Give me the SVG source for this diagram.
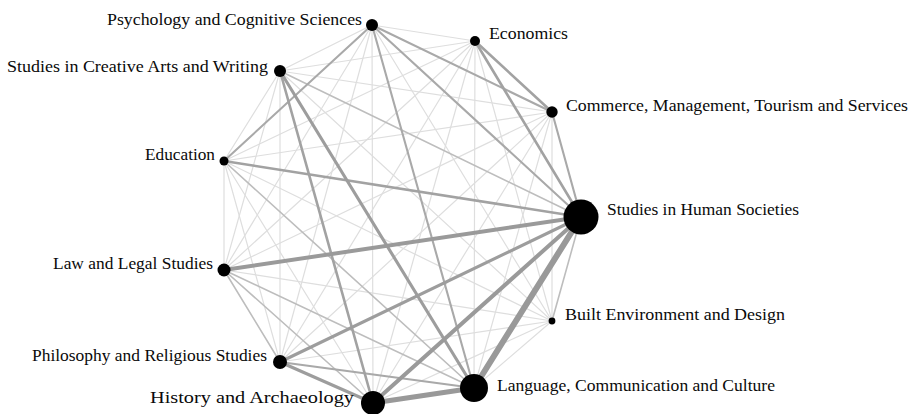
<svg xmlns="http://www.w3.org/2000/svg" width="918" height="414" viewBox="0 0 918 414">
<style>
  line { fill: none; stroke-linecap: round; }
  .w1 { stroke: #dedede; stroke-width: 1.2; }
  .w15 { stroke: #bdbdbd; stroke-width: 1.6; }
  .w2 { stroke: #a9a9a9; stroke-width: 2.1; }
  .w25 { stroke: #a2a2a2; stroke-width: 2.6; }
  .w3 { stroke: #9d9d9d; stroke-width: 3.1; }
  .w4 { stroke: #9a9a9a; stroke-width: 4; }
  .w5 { stroke: #999999; stroke-width: 5; }
  .w6 { stroke: #999999; stroke-width: 6; }
  circle { fill: #000000; }
  text { font-family: "Liberation Serif", "DejaVu Serif", serif; font-size: 17px; fill: #0a0a0a; }
</style>
<rect width="918" height="414" fill="#ffffff"/>
<g id="connectors">
  <line class="w1" x1="372" y1="25" x2="475" y2="41"/>
  <line class="w1" x1="372" y1="25" x2="552" y2="321"/>
  <line class="w1" x1="372" y1="25" x2="373" y2="403"/>
  <line class="w1" x1="372" y1="25" x2="280" y2="362"/>
  <line class="w1" x1="372" y1="25" x2="224" y2="270"/>
  <line class="w1" x1="372" y1="25" x2="280" y2="71"/>
  <line class="w1" x1="475" y1="41" x2="552" y2="321"/>
  <line class="w1" x1="475" y1="41" x2="474" y2="388"/>
  <line class="w1" x1="475" y1="41" x2="373" y2="403"/>
  <line class="w1" x1="475" y1="41" x2="280" y2="362"/>
  <line class="w1" x1="475" y1="41" x2="224" y2="270"/>
  <line class="w1" x1="475" y1="41" x2="224" y2="161"/>
  <line class="w1" x1="475" y1="41" x2="280" y2="71"/>
  <line class="w1" x1="552" y1="112" x2="552" y2="321"/>
  <line class="w1" x1="552" y1="112" x2="474" y2="388"/>
  <line class="w1" x1="552" y1="112" x2="373" y2="403"/>
  <line class="w1" x1="552" y1="112" x2="280" y2="362"/>
  <line class="w1" x1="552" y1="112" x2="224" y2="270"/>
  <line class="w1" x1="552" y1="112" x2="224" y2="161"/>
  <line class="w1" x1="552" y1="112" x2="280" y2="71"/>
  <line class="w1" x1="552" y1="321" x2="474" y2="388"/>
  <line class="w1" x1="552" y1="321" x2="373" y2="403"/>
  <line class="w1" x1="552" y1="321" x2="280" y2="362"/>
  <line class="w1" x1="552" y1="321" x2="224" y2="270"/>
  <line class="w1" x1="552" y1="321" x2="224" y2="161"/>
  <line class="w1" x1="552" y1="321" x2="280" y2="71"/>
  <line class="w1" x1="373" y1="403" x2="224" y2="161"/>
  <line class="w1" x1="280" y1="362" x2="224" y2="161"/>
  <line class="w1" x1="280" y1="362" x2="280" y2="71"/>
  <line class="w1" x1="224" y1="270" x2="224" y2="161"/>
  <line class="w1" x1="224" y1="270" x2="280" y2="71"/>
  <line class="w1" x1="224" y1="161" x2="280" y2="71"/>
  <line class="w15" x1="581" y1="217" x2="552" y2="321"/>
  <line class="w15" x1="581" y1="217" x2="280" y2="71"/>
  <line class="w15" x1="474" y1="388" x2="224" y2="270"/>
  <line class="w15" x1="474" y1="388" x2="224" y2="161"/>
  <line class="w15" x1="373" y1="403" x2="224" y2="270"/>
  <line class="w15" x1="280" y1="362" x2="224" y2="270"/>
  <line class="w2" x1="372" y1="25" x2="552" y2="112"/>
  <line class="w2" x1="372" y1="25" x2="581" y2="217"/>
  <line class="w2" x1="372" y1="25" x2="474" y2="388"/>
  <line class="w2" x1="372" y1="25" x2="224" y2="161"/>
  <line class="w2" x1="552" y1="112" x2="581" y2="217"/>
  <line class="w2" x1="474" y1="388" x2="280" y2="362"/>
  <line class="w25" x1="475" y1="41" x2="552" y2="112"/>
  <line class="w25" x1="475" y1="41" x2="581" y2="217"/>
  <line class="w25" x1="581" y1="217" x2="224" y2="161"/>
  <line class="w25" x1="373" y1="403" x2="280" y2="71"/>
  <line class="w3" x1="581" y1="217" x2="280" y2="362"/>
  <line class="w3" x1="373" y1="403" x2="280" y2="362"/>
  <line class="w3" x1="474" y1="388" x2="280" y2="71"/>
  <line class="w4" x1="581" y1="217" x2="224" y2="270"/>
  <line class="w4" x1="581" y1="217" x2="373" y2="403"/>
  <line class="w5" x1="474" y1="388" x2="373" y2="403"/>
  <line class="w6" x1="581" y1="217" x2="474" y2="388"/>
</g>
<g id="n-psychology">
  <circle cx="372" cy="25" r="6"/>
  <text x="107" y="25" textLength="255" lengthAdjust="spacingAndGlyphs">Psychology and Cognitive Sciences</text>
</g>
<g id="n-economics">
  <circle cx="475" cy="41" r="5"/>
  <text x="489" y="39" textLength="79" lengthAdjust="spacingAndGlyphs">Economics</text>
</g>
<g id="n-commerce">
  <circle cx="552" cy="112" r="5.7"/>
  <text x="566" y="111" textLength="342" lengthAdjust="spacingAndGlyphs">Commerce, Management, Tourism and Services</text>
</g>
<g id="n-human-societies">
  <circle cx="581" cy="217" r="17.5"/>
  <text x="607" y="215" textLength="192" lengthAdjust="spacingAndGlyphs">Studies in Human Societies</text>
</g>
<g id="n-built-environment">
  <circle cx="552" cy="321" r="3.4"/>
  <text x="565" y="320" textLength="220" lengthAdjust="spacingAndGlyphs">Built Environment and Design</text>
</g>
<g id="n-language">
  <circle cx="474" cy="388" r="14"/>
  <text x="497" y="391" textLength="278" lengthAdjust="spacingAndGlyphs">Language, Communication and Culture</text>
</g>
<g id="n-history">
  <circle cx="373" cy="403" r="12"/>
  <text x="150" y="403" textLength="204" lengthAdjust="spacingAndGlyphs">History and Archaeology</text>
</g>
<g id="n-philosophy">
  <circle cx="280" cy="362" r="7"/>
  <text x="32" y="361" textLength="235" lengthAdjust="spacingAndGlyphs">Philosophy and Religious Studies</text>
</g>
<g id="n-law">
  <circle cx="224" cy="270" r="6.5"/>
  <text x="53" y="269" textLength="160" lengthAdjust="spacingAndGlyphs">Law and Legal Studies</text>
</g>
<g id="n-education">
  <circle cx="224" cy="161" r="4.5"/>
  <text x="145" y="160" textLength="70" lengthAdjust="spacingAndGlyphs">Education</text>
</g>
<g id="n-creative-arts">
  <circle cx="280" cy="71" r="6"/>
  <text x="7" y="72" textLength="261" lengthAdjust="spacingAndGlyphs">Studies in Creative Arts and Writing</text>
</g>
</svg>
